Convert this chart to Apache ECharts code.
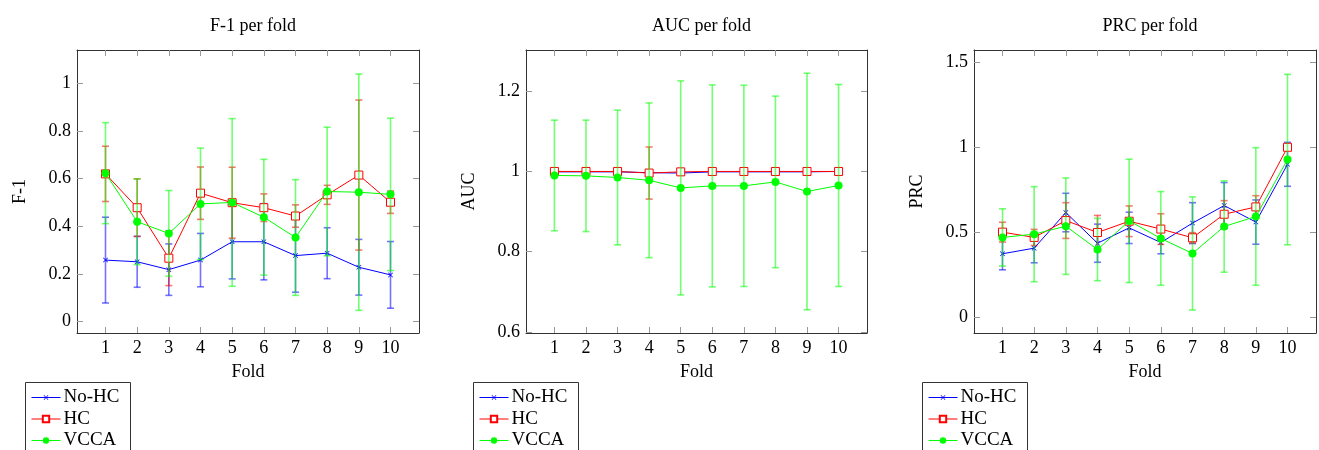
<!DOCTYPE html>
<html>
<head>
<meta charset="utf-8">
<script src="https://cdn.jsdelivr.net/npm/echarts@6/dist/echarts.min.js"></script>
<style>
html,body{margin:0;padding:0;background:#fff;}
#chart{width:1319px;height:450px;}
</style>
</head>
<body>
<div id="chart"></div>
<script>
var folds = [1,2,3,4,5,6,7,8,9,10];
var seriesNames = ['No-HC','HC','VCCA'];

// F-1 per fold
var f1NoHC    = [0.258,0.251,0.218,0.258,0.335,0.335,0.277,0.287,0.228,0.196];
var f1NoHCErr = [0.180,0.107,0.108,0.112,0.156,0.160,0.154,0.107,0.117,0.140];
var f1HC      = [0.620,0.478,0.266,0.539,0.499,0.478,0.443,0.532,0.615,0.501];
var f1HCErr   = [0.116,0.121,0.115,0.110,0.149,0.058,0.047,0.040,0.315,0.047];
var f1VCCA    = [0.623,0.419,0.370,0.494,0.500,0.438,0.353,0.546,0.543,0.534];
var f1VCCAErr = [0.212,0.180,0.180,0.234,0.352,0.243,0.243,0.270,0.496,0.320];

// AUC per fold
var aucNoHC    = [0.999,0.999,0.999,0.997,0.996,0.999,0.999,0.999,0.999,1.000];
var aucNoHCErr = [0.002,0.002,0.002,0.003,0.003,0.002,0.002,0.002,0.002,0.001];
var aucHC      = [1.000,1.000,1.000,0.996,0.999,1.000,1.000,1.000,1.000,1.000];
var aucHCErr   = [0.001,0.001,0.001,0.065,0.002,0.001,0.001,0.001,0.001,0.001];
var aucVCCA    = [0.990,0.989,0.985,0.978,0.959,0.964,0.964,0.974,0.950,0.965];
var aucVCCAErr = [0.138,0.139,0.168,0.193,0.267,0.252,0.251,0.214,0.295,0.252];

// PRC per fold
var prcNoHC    = [0.375,0.408,0.617,0.437,0.527,0.441,0.555,0.658,0.561,0.900];
var prcNoHCErr = [0.094,0.086,0.113,0.112,0.092,0.066,0.120,0.135,0.130,0.129];
var prcHC      = [0.502,0.471,0.570,0.500,0.566,0.520,0.469,0.607,0.650,1.000];
var prcHCErr   = [0.058,0.047,0.105,0.100,0.090,0.090,0.030,0.080,0.066,0.002];
var prcVCCA    = [0.471,0.490,0.537,0.400,0.568,0.465,0.377,0.535,0.594,0.928];
var prcVCCAErr = [0.168,0.279,0.283,0.183,0.362,0.275,0.332,0.268,0.404,0.500];

// Tick labels
var xTicks = [1,2,3,4,5,6,7,8,9,10];
var f1Ticks = [0,0.2,0.4,0.6,0.8,1];
var aucTicks = [0.6,0.8,1,1.2];
var prcTicks = [0,0.5,1,1.5];

var titles = ['F-1 per fold','AUC per fold','PRC per fold'];
var yNames = ['F-1','AUC','PRC'];
var xName = 'Fold';

var FONT = 'Liberation Serif';
var colors = {'No-HC':'#0000ff','HC':'#ff0000','VCCA':'#00ff00'};
var barColors = {'No-HC':'rgba(0,0,255,0.55)','HC':'rgba(255,0,0,0.55)','VCCA':'rgba(0,255,0,0.55)'};

var panels = [
  {left:77, width:342, ymin:-0.048, ymax:1.14, ticks:f1Ticks,
   data:[[f1NoHC,f1NoHCErr],[f1HC,f1HCErr],[f1VCCA,f1VCCAErr]], legendLeft:25},
  {left:526, width:341, ymin:0.597, ymax:1.303, ticks:aucTicks,
   data:[[aucNoHC,aucNoHCErr],[aucHC,aucHCErr],[aucVCCA,aucVCCAErr]], legendLeft:473},
  {left:974, width:342, ymin:-0.09, ymax:1.571, ticks:prcTicks,
   data:[[prcNoHC,prcNoHCErr],[prcHC,prcHCErr],[prcVCCA,prcVCCAErr]], legendLeft:922}
];

var crossPath = 'path://M0,1 L1,0 L5,4 L9,0 L10,1 L6,5 L10,9 L9,10 L5,6 L1,10 L0,9 L4,5 Z';
var symbols = {
  'No-HC': {symbol: crossPath, size: 5, itemStyle:{color:'#0000ff'}},
  'HC':    {symbol: 'rect', size: 8, itemStyle:{color:'#ffffff', borderColor:'#ff0000', borderWidth:1}},
  'VCCA':  {symbol: 'circle', size: 8, itemStyle:{color:'#00ff00'}}
};
var legendSizes = {'No-HC':[29,6], 'HC':[29,8], 'VCCA':[29,8]};

var option = {
  animation:false,
  backgroundColor:'#ffffff',
  textStyle:{fontFamily:FONT, color:'#000'},
  title:[], grid:[], xAxis:[], yAxis:[], legend:[], series:[], graphic:[]
};

var axisLineStyle = {show:true, onZero:false, lineStyle:{color:'#333', width:1}};
var tickStyle = {show:true, inside:true, length:6, lineStyle:{color:'#999', width:1}};

panels.forEach(function(p, gi){
  option.title.push({
    text: titles[gi], left: p.left + p.width/2, top: 12, textAlign:'center',
    textStyle:{fontFamily:FONT, fontSize:18, fontWeight:'normal', color:'#000'}
  });
  option.grid.push({left:p.left, top:50, width:p.width, height:283});
  option.xAxis.push({
    type:'value', gridIndex:gi, position:'bottom', min:0.1, max:10.9,
    name:xName, nameLocation:'middle', nameGap:30,
    nameTextStyle:{fontFamily:FONT, fontSize:18, color:'#000'},
    axisLine:axisLineStyle,
    axisTick:Object.assign({customValues:xTicks}, tickStyle),
    axisLabel:{customValues:xTicks, fontFamily:FONT, fontSize:18, color:'#000', margin:6},
    splitLine:{show:false}
  });
  option.xAxis.push({
    type:'value', gridIndex:gi, position:'top', min:0.1, max:10.9,
    axisLine:axisLineStyle,
    axisTick:Object.assign({customValues:xTicks}, tickStyle),
    axisLabel:{show:false},
    splitLine:{show:false}
  });
  option.yAxis.push({
    type:'value', gridIndex:gi, position:'left', min:p.ymin, max:p.ymax,
    name:yNames[gi], nameLocation:'middle', nameGap:48, nameRotate:90,
    nameTextStyle:{fontFamily:FONT, fontSize:18, color:'#000'},
    axisLine:axisLineStyle,
    axisTick:Object.assign({customValues:p.ticks}, tickStyle),
    axisLabel:{customValues:p.ticks, fontFamily:FONT, fontSize:18, color:'#000', margin:6,
      formatter:function(v){ return String(Math.round(v*10)/10); }},
    splitLine:{show:false}
  });
  option.yAxis.push({
    type:'value', gridIndex:gi, position:'right', min:p.ymin, max:p.ymax,
    axisLine:axisLineStyle,
    axisTick:Object.assign({customValues:p.ticks}, tickStyle),
    axisLabel:{show:false},
    splitLine:{show:false}
  });
  option.graphic.push({
    type:'rect', left:p.legendLeft, top:382, z:100,
    shape:{width:105, height:90},
    style:{fill:'#fff', stroke:'#333', lineWidth:1}
  });
  seriesNames.forEach(function(name, si){
    var ls = legendSizes[name];
    option.legend.push({
      data:[name], orient:'vertical', left:p.legendLeft + 6, top:388 + si*21.5,
      itemWidth:ls[0], itemHeight:ls[1], padding:0, z:110,
      lineStyle:{width:1},
      textStyle:{fontFamily:FONT, fontSize:19, color:'#000', padding:[0,0,0,-2]},
      selectedMode:false
    });
  });

  seriesNames.forEach(function(name, si){
    var vals = p.data[si][0], errs = p.data[si][1];
    var errData = folds.map(function(f, i){ return [f, vals[i]-errs[i], vals[i]+errs[i]]; });
    option.series.push({
      type:'custom', name: name + ' error', xAxisIndex:gi*2, yAxisIndex:gi*2, z:2+si,
      data: errData, silent:true, clip:false,
      renderItem: (function(col){
        return function(params, api){
          var lo = api.coord([api.value(0), api.value(1)]);
          var hi = api.coord([api.value(0), api.value(2)]);
          var hw = 3.5;
          var st = {stroke:col, lineWidth:1.6};
          return {type:'group', children:[
            {type:'line', shape:{x1:lo[0], y1:lo[1], x2:hi[0], y2:hi[1]}, style:st},
            {type:'line', shape:{x1:lo[0]-hw, y1:lo[1], x2:lo[0]+hw, y2:lo[1]}, style:st},
            {type:'line', shape:{x1:hi[0]-hw, y1:hi[1], x2:hi[0]+hw, y2:hi[1]}, style:st}
          ]};
        };
      })(barColors[name])
    });
    option.series.push({
      type:'line', name:name, xAxisIndex:gi*2, yAxisIndex:gi*2, z:2+si,
      data: folds.map(function(f,i){ return [f, vals[i]]; }),
      symbol: symbols[name].symbol, symbolSize: symbols[name].size,
      showSymbol:true, itemStyle: symbols[name].itemStyle,
      lineStyle:{color:colors[name], width:1},
      color: colors[name],
      emphasis:{disabled:true}
    });
  });
});

var chart = echarts.init(document.getElementById('chart'), null, {renderer:'canvas'});
chart.setOption(option);
</script>
</body>
</html>
